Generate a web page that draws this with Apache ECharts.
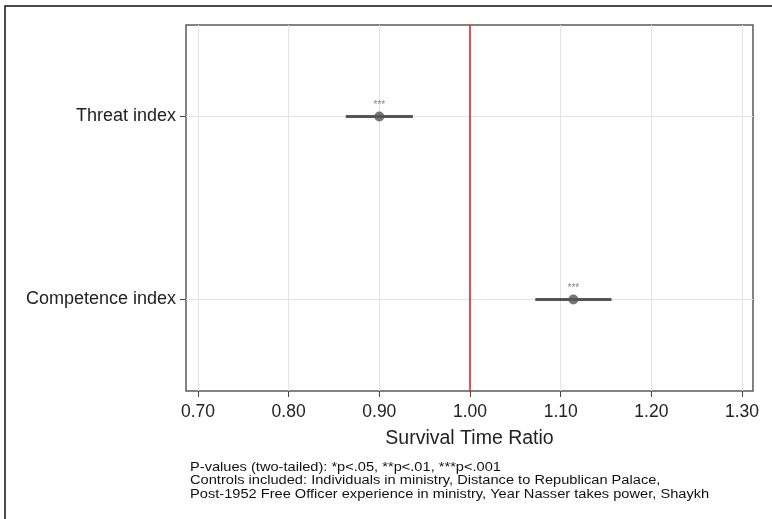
<!DOCTYPE html>
<html>
<head>
<meta charset="utf-8">
<script src="https://cdn.jsdelivr.net/npm/echarts@6/dist/echarts.min.js"></script>
<style>
  html, body { margin: 0; padding: 0; background: #fff; }
  #chart { width: 772px; height: 519px; }
</style>
</head>
<body>
<div id="chart"></div>
<script>
// values
const categories = ['Threat index', 'Competence index']
const ratios = [0.900, 1.114]
const ciLow = [0.863, 1.072]
const ciHigh = [0.937, 1.156]
const stars = ['***', '***']
const xTicks = [0.7, 0.8, 0.9, 1.0, 1.1, 1.2, 1.3]
const refValue = 1.0
const notes = [
  'P-values (two-tailed): *p<.05, **p<.01, ***p<.001',
  'Controls included: Individuals in ministry, Distance to Republican Palace,',
  'Post-1952 Free Officer experience in ministry, Year Nasser takes power, Shaykh'
]

const font = 'Liberation Sans, Arial, sans-serif'
const ink = '#555555'

const chart = echarts.init(document.getElementById('chart'))

chart.setOption({
  animation: false,
  textStyle: { fontFamily: font },
  grid: {
    left: 186,
    right: 19,
    top: 25,
    bottom: 128,
    show: true,
    borderColor: '#5a5a5a',
    borderWidth: 1.5,
    backgroundColor: '#fff'
  },
  xAxis: {
    type: 'value',
    // a little padding on each side of the ticks, as Stata does
    min: 0.6868,
    max: 1.3121,
    name: 'Survival Time Ratio',
    nameLocation: 'middle',
    nameGap: 38,
    nameTextStyle: { fontSize: 19.5, color: '#222', fontFamily: font },
    axisLine: { show: false },
    axisTick: {
      show: true,
      length: 6,
      customValues: xTicks,
      lineStyle: { color: '#444', width: 1 }
    },
    axisLabel: {
      customValues: xTicks,
      formatter: v => v.toFixed(2),
      fontSize: 17.5,
      color: '#222',
      margin: 12
    },
    splitLine: { show: false }
  },
  yAxis: {
    type: 'category',
    data: categories,
    inverse: true,
    boundaryGap: true,
    axisLine: { show: false },
    axisTick: {
      show: true,
      length: 6,
      alignWithLabel: true,
      lineStyle: { color: '#444', width: 1 }
    },
    axisLabel: { fontSize: 18, color: '#222', margin: 10 },
    splitLine: { show: false }
  },
  graphic: [
    {
      type: 'rect',
      z: -10,
      shape: { x: 5, y: 6, width: 820, height: 560 },
      style: { fill: 'none', stroke: '#111', lineWidth: 1.5 }
    },
    {
      // the source figure is a little stretched sideways, so is the note
      type: 'text',
      x: 190,
      y: 461,
      scaleX: 1.17,
      style: {
        text: notes.join('\n'),
        font: '12.5px ' + font,
        lineHeight: 13.3,
        fill: '#111'
      }
    }
  ],
  series: [
    {
      // grid lines and the reference line at 1.00
      type: 'line',
      data: [],
      silent: true,
      z: 1,
      markLine: {
        silent: true,
        z: 1,
        symbol: 'none',
        animation: false,
        label: { show: false },
        data: [
          ...xTicks.map(v => ({ xAxis: v, lineStyle: { color: '#e3e3e3', width: 1, type: 'solid' } })),
          ...categories.map(c => ({ yAxis: c, lineStyle: { color: '#e3e3e3', width: 1, type: 'solid' } })),
          { xAxis: refValue, lineStyle: { color: '#e8141c', width: 1.5, type: 'solid' } }
        ]
      }
    },
    {
      type: 'custom',
      silent: true,
      data: categories.map((c, i) => [ciLow[i], ciHigh[i], i]),
      encode: { x: [0, 1], y: 2 },
      renderItem: (params, api) => {
        const a = api.coord([api.value(0), api.value(2)])
        const b = api.coord([api.value(1), api.value(2)])
        return {
          type: 'line',
          shape: { x1: a[0], y1: a[1], x2: b[0], y2: b[1] },
          style: { stroke: ink, lineWidth: 3 }
        }
      },
      z: 3
    },
    {
      type: 'scatter',
      data: categories.map((c, i) => [ratios[i], i]),
      symbol: 'circle',
      symbolSize: 10,
      itemStyle: { color: ink },
      label: {
        show: true,
        position: 'top',
        distance: 1,
        formatter: p => stars[p.dataIndex],
        fontSize: 10,
        color: '#666'
      },
      z: 4
    }
  ]
})
</script>
</body>
</html>
